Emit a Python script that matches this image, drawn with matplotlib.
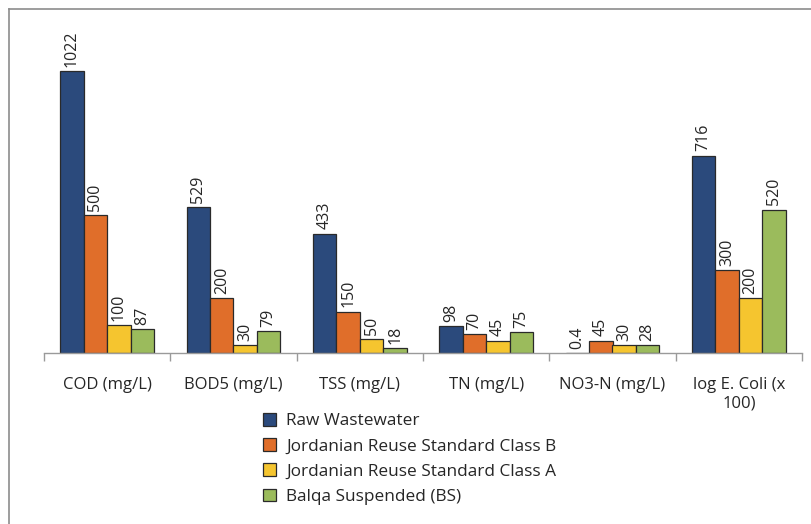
import matplotlib
matplotlib.use("Agg")
import matplotlib.pyplot as plt
from matplotlib.patches import Patch
from matplotlib.lines import Line2D
import numpy as np

plt.rcParams['font.family'] = ['Open Sans', 'DejaVu Sans']

categories = ["COD (mg/L)", "BOD5 (mg/L)", "TSS (mg/L)", "TN (mg/L)",
              "NO3-N (mg/L)", "log E. Coli (x\n100)"]
series_names = ["Raw Wastewater",
                "Jordanian Reuse Standard Class B",
                "Jordanian Reuse Standard Class A",
                "Balqa Suspended (BS)"]
raw_wastewater = [1022, 529, 433, 98, 0.4, 716]
class_b = [500, 200, 150, 70, 45, 300]
class_a = [100, 30, 50, 45, 30, 200]
balqa_bs = [87, 79, 18, 75, 28, 520]
value_labels = [
    ["1022", "529", "433", "98", "0.4", "716"],
    ["500", "200", "150", "70", "45", "300"],
    ["100", "30", "50", "45", "30", "200"],
    ["87", "79", "18", "75", "28", "520"],
]
colors = ["#2B4A7C", "#E06E2A", "#F5C52F", "#9BBB5C"]

series = [raw_wastewater, class_b, class_a, balqa_bs]

W, H = 811, 524
fig = plt.figure(figsize=(W / 100, H / 100), dpi=100)
ax = fig.add_axes([44 / W, 1 - 353 / H, (802 - 44) / W, (353 - 22) / H])

n_cat = len(categories)
x = np.arange(n_cat)
bw = 0.186
offsets = (np.arange(4) - 1.5) * bw

for i, (vals, col) in enumerate(zip(series, colors)):
    bars = ax.bar(x + offsets[i], vals, width=bw, color=col,
                  edgecolor="#2a2a2a", linewidth=0.9, zorder=2,
                  label=series_names[i])
    for b, lab in zip(bars, value_labels[i]):
        ax.annotate(lab, (b.get_x() + b.get_width() / 2, b.get_height()),
                    xytext=(0, 3), textcoords="offset points",
                    rotation=90, ha="center", va="bottom",
                    fontsize=11.5, color="#262626")

ax.set_xlim(-0.5, n_cat - 0.5)
ax.set_ylim(0, 1200)
ax.set_yticks([])
for s in ["top", "right", "left"]:
    ax.spines[s].set_visible(False)
ax.spines["bottom"].set_color("#9a9a9a")
ax.spines["bottom"].set_linewidth(1.0)

# boundary ticks between categories
ax.set_xticks(np.arange(n_cat + 1) - 0.5, minor=False)
ax.set_xticklabels([])
ax.tick_params(axis="x", which="major", length=6, color="#9a9a9a", width=1.0)
ax.set_xticks(x, minor=True)
ax.set_xticklabels(categories, minor=True, fontsize=12, color="#262626",
                   linespacing=1.25, va="top")
ax.tick_params(axis="x", which="minor", length=0, pad=17)

handles = [Patch(facecolor=c, edgecolor="#2a2a2a", linewidth=0.9) for c in colors]
fig.legend(handles, series_names, loc="upper left",
           bbox_to_anchor=(256 / W, 1 - 406 / H), frameon=False,
           fontsize=12.4, handlelength=0.75, handleheight=0.75,
           handletextpad=0.6, labelspacing=0.52, borderaxespad=0,
           labelcolor="#262626")

# chart frame edges
fig.add_artist(Line2D([8.5 / W, 8.5 / W], [0, 1 - 9 / H], transform=fig.transFigure,
                      color="#8c8c8c", linewidth=1.2))
fig.add_artist(Line2D([8.5 / W, 1], [1 - 9 / H, 1 - 9 / H], transform=fig.transFigure,
                      color="#8c8c8c", linewidth=1.2))

fig.savefig("out.png", dpi=100, facecolor="white")
